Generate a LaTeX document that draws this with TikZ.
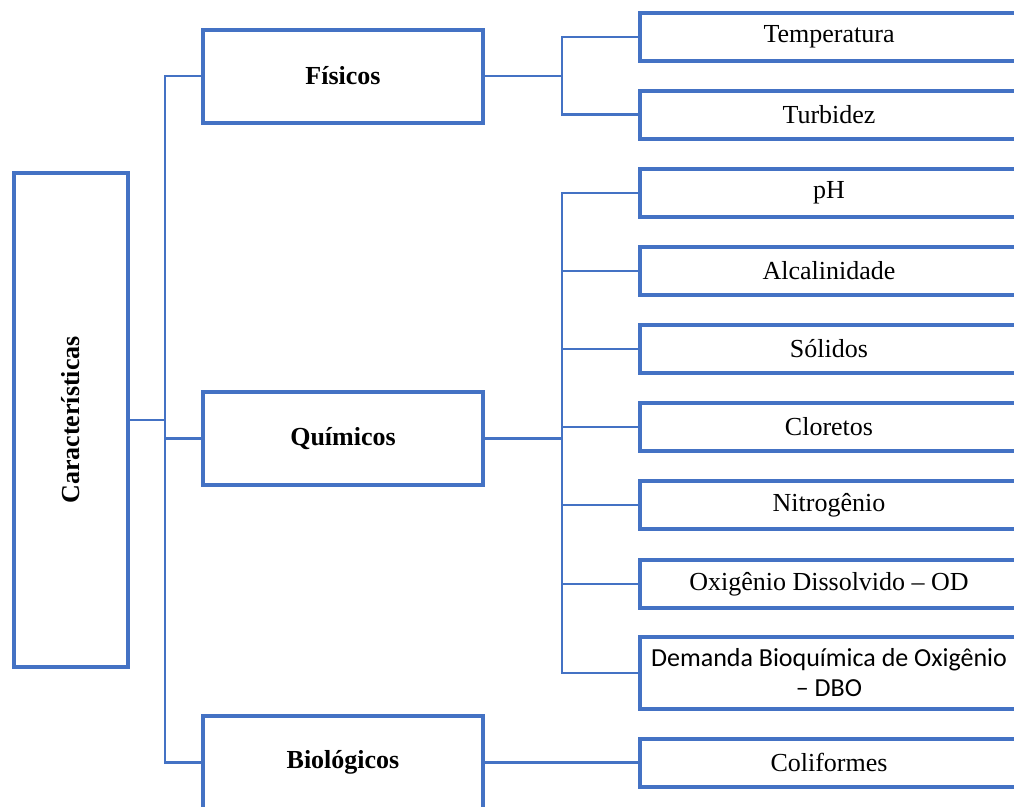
\documentclass[tikz,border=0pt]{standalone}
\usepackage{fontspec}
\setmainfont{Liberation Serif}
\newfontfamily\calibri{Carlito}
\definecolor{boxblue}{HTML}{4472C4}

\begin{document}
\begin{tikzpicture}[x=1pt, y=-1pt,
    every node/.style={font=\fontsize{26}{30}\selectfont},
    mainbox/.style={draw=boxblue, line width=4pt, inner sep=0pt,
        minimum width=113.5pt, minimum height=494pt},
    groupbox/.style={draw=boxblue, line width=4pt, inner sep=0pt,
        minimum width=280.5pt, minimum height=93pt,
        font=\fontsize{26}{30}\selectfont\bfseries},
    itembox/.style={draw=boxblue, line width=4pt, inner sep=0pt,
        minimum width=378pt, minimum height=48pt},
    link/.style={draw=boxblue, line width=2.5pt}]
            \useasboundingbox (0, 0) rectangle (1014, 806);
            \clip (0, 0) rectangle (1014, 806);

            \node[mainbox] (car) at (71, 420) {\rotatebox{90}{\bfseries Características}};

            \node[groupbox] (fis) at (343, 76) {Físicos};
            \node[groupbox] (qui) at (343, 438.5) {Químicos};
            \node[groupbox] (bio) at (343, 762.5) {Biológicos};

            \node[itembox] (tem) at (829, 37) {Temperatura};
            \node[itembox] (tur) at (829, 114.5) {Turbidez};

            \node[itembox] (ph) at (829, 193) {pH};
            \node[itembox] (alc) at (829, 271) {Alcalinidade};
            \node[itembox] (sol) at (829, 349) {Sólidos};
            \node[itembox] (clo) at (829, 427) {Cloretos};
            \node[itembox] (nit) at (829, 505) {Nitrogênio};
            \node[itembox] (od) at (829, 584) {Oxigênio Dissolvido – OD};
            \node[itembox, minimum height=71.5pt, align=center,
                font=\fontsize{26}{30}\selectfont\calibri] (dbo) at (829, 673)
                {Demanda Bioquímica de Oxigênio\\– DBO};

            \node[itembox] (col) at (829, 762.5) {Coliformes};

            % buses
            \coordinate (bus-car) at (165, 420);
            \coordinate (bus-fis) at (562, 76);
            \coordinate (bus-qui) at (562, 438.5);

            \draw[link] (car.east) -- (bus-car)
                (bus-car) |- (fis.west)
                (bus-car) |- (qui.west)
                (bus-car) |- (bio.west);

            \draw[link] (fis.east) -- (bus-fis)
                (bus-fis) |- (tem.west)
                (bus-fis) |- (tur.west);

            \draw[link] (qui.east) -- (bus-qui)
                (bus-qui) |- (ph.west)
                (bus-qui) |- (alc.west)
                (bus-qui) |- (sol.west)
                (bus-qui) |- (clo.west)
                (bus-qui) |- (nit.west)
                (bus-qui) |- (od.west)
                (bus-qui) |- (dbo.west);

            \draw[link] (bio.east) -- (col.west);
        \end{tikzpicture}
\end{document}
